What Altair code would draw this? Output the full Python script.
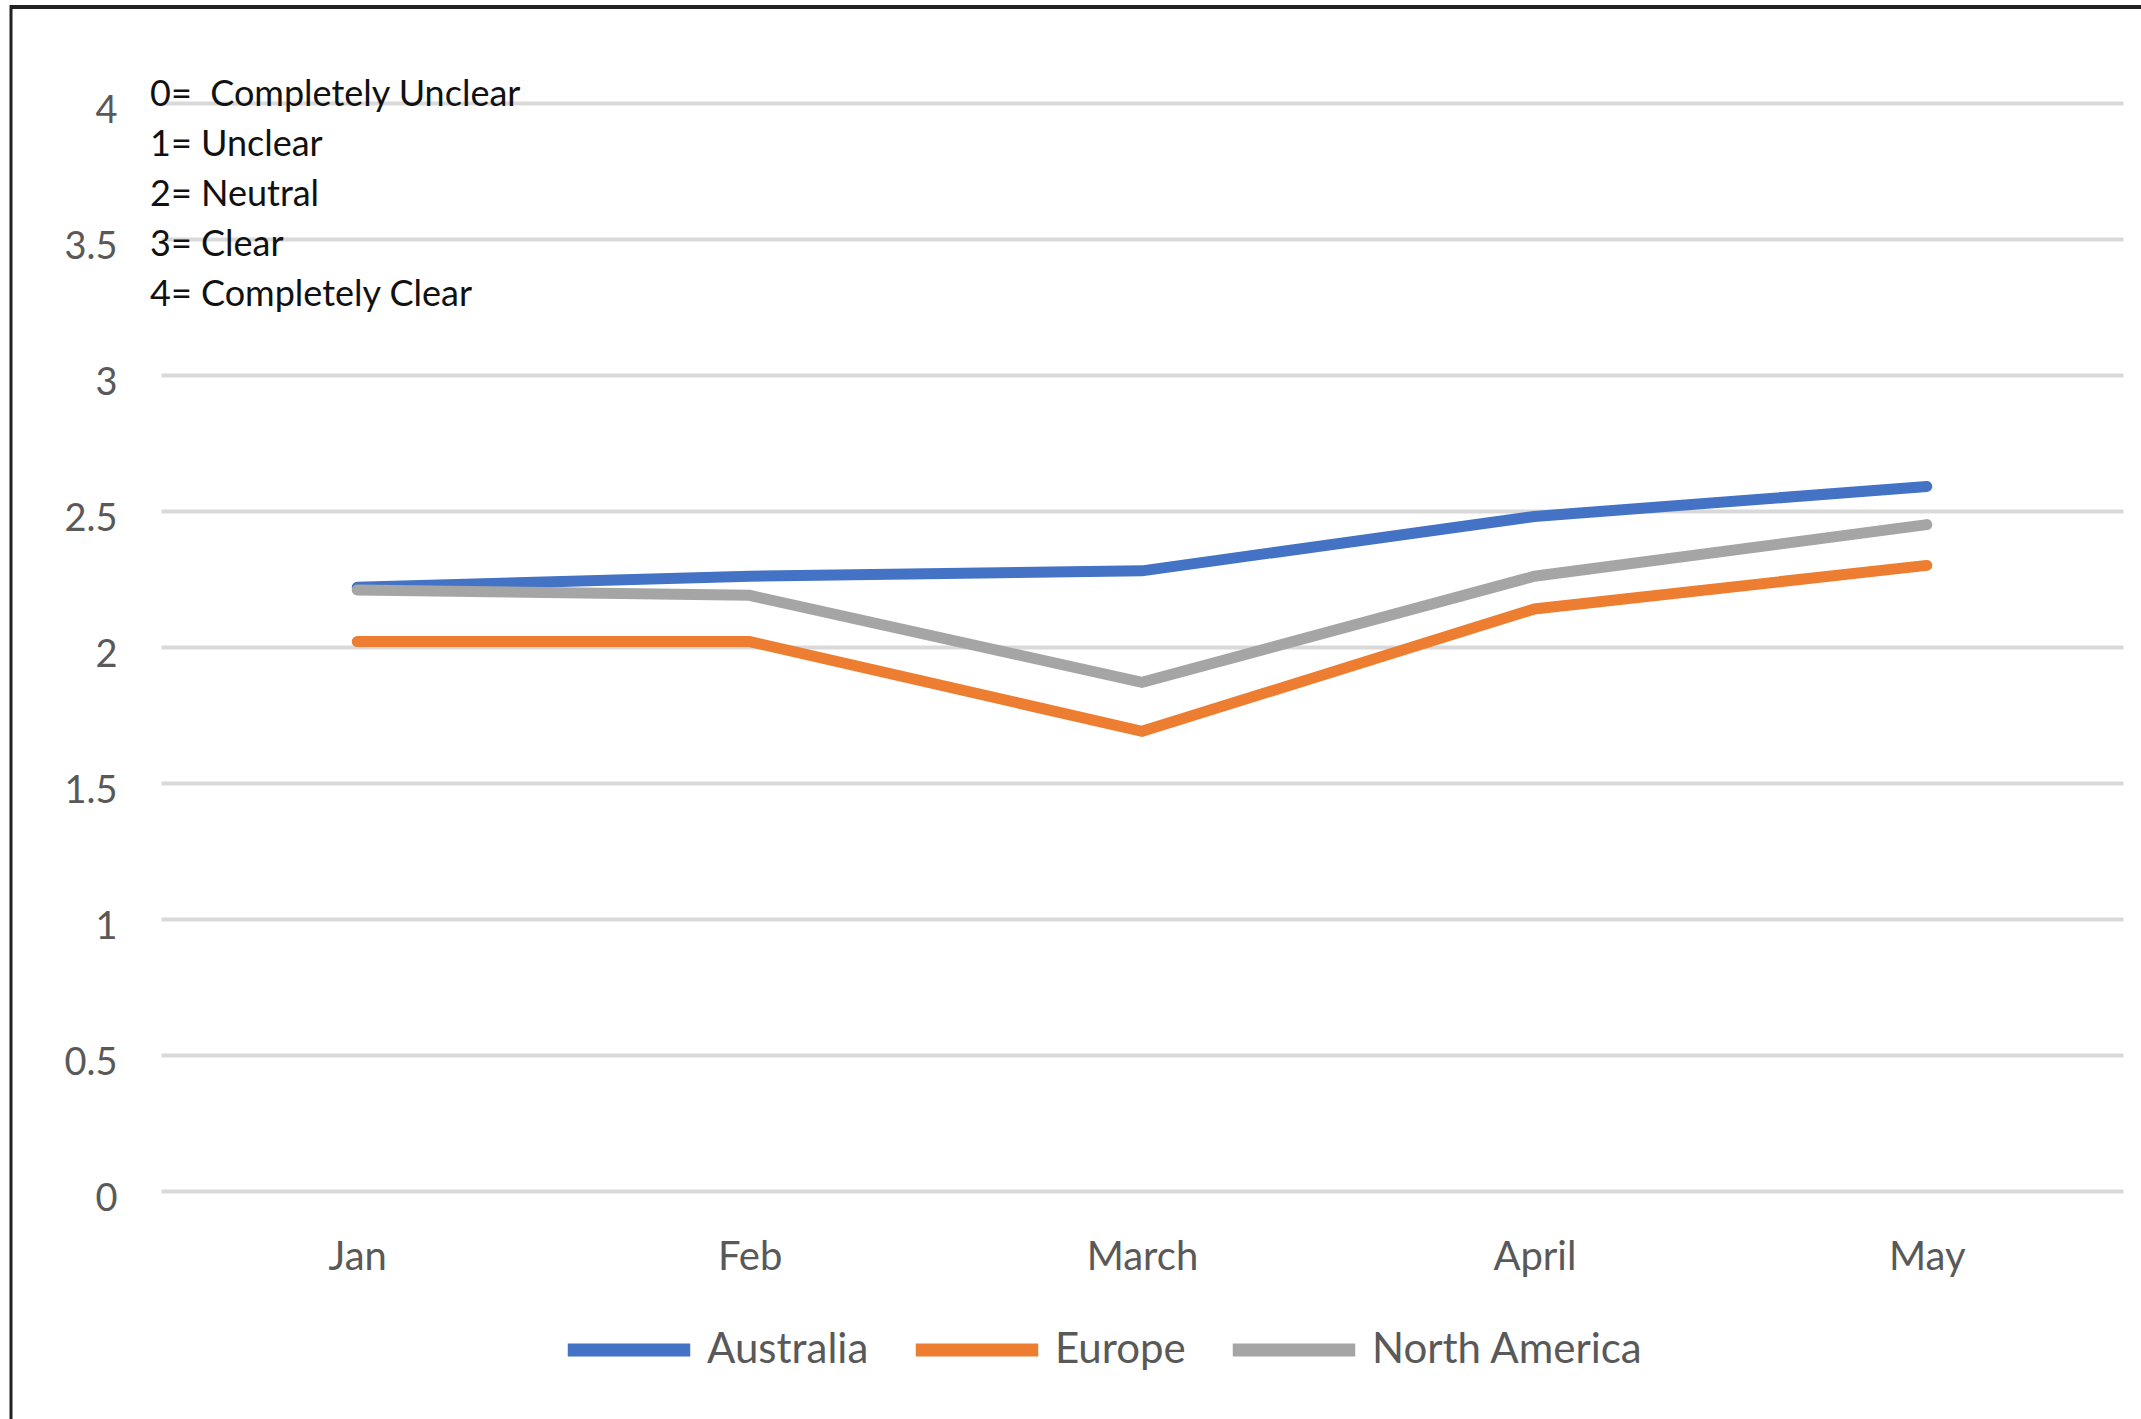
import altair as alt
import pandas as pd

months = ["Jan", "Feb", "March", "April", "May"]
series = ["Australia", "Europe", "North America"]
australia = [2.22, 2.26, 2.28, 2.48, 2.59]
europe = [2.02, 2.02, 1.69, 2.14, 2.30]
north_america = [2.21, 2.19, 1.87, 2.26, 2.45]
colors = ["#4472C4", "#ED7D31", "#A5A5A5"]
y_ticks = [0, 0.5, 1, 1.5, 2, 2.5, 3, 3.5, 4]
note_lines = ["0=\u00a0 Completely Unclear", "1= Unclear", "2= Neutral", "3= Clear", "4= Completely Clear"]

rows = []
for name, vals in zip(series, [australia, europe, north_america]):
    for m, v in zip(months, vals):
        rows.append({"Month": m, "Region": name, "Value": v})
df = pd.DataFrame(rows)

FONT = "Lato"
W, H = 1962, 1088

lines = alt.Chart(df).mark_line(strokeWidth=11, strokeCap="round", strokeJoin="miter").encode(
    x=alt.X("Month:N", sort=months, scale=alt.Scale(padding=0.5),
            axis=alt.Axis(title=None, labelAngle=0, labelFontSize=40, labelColor="#595959", labelFont=FONT,
                          labelPadding=46, ticks=False, domain=False, grid=False)),
    y=alt.Y("Value:Q", scale=alt.Scale(domain=[0, 4], nice=False),
            axis=alt.Axis(title=None, values=y_ticks, format="~g", labelFontSize=38,
                          labelColor="#595959", labelFont=FONT, labelPadding=44, labelOffset=8, ticks=False,
                          domain=False, grid=True, gridColor="#D9D9D9", gridWidth=4, labelFlush=False)),
    color=alt.Color("Region:N", sort=series, scale=alt.Scale(domain=series, range=colors),
                    legend=alt.Legend(title=None, orient="none", direction="horizontal", legendX=400, legendY=1179,
                                      symbolType="stroke", symbolStrokeWidth=13, symbolSize=15000,
                                      labelFontSize=42, labelColor="#595959", labelFont=FONT, labelLimit=500,
                                      labelOffset=10, columnPadding=20)),
)

note = alt.Chart(pd.DataFrame({"t": [0]})).mark_text(
    text=note_lines, lineHeight=50, align="left", baseline="alphabetic", fontSize=36, font=FONT, color="#111111"
).encode(x=alt.value(-11), y=alt.value(3))

border_top = alt.Chart(pd.DataFrame({"t": [0]})).mark_rule(color="#222222", strokeWidth=4).encode(
    x=alt.value(-151), x2=alt.value(1990), y=alt.value(-96))
border_left = alt.Chart(pd.DataFrame({"t": [0]})).mark_rule(color="#222222", strokeWidth=3).encode(
    x=alt.value(-150), y=alt.value(-98), y2=alt.value(1330))

chart = alt.layer(lines, note, border_top, border_left).properties(
    width=W, height=H,
    padding={"left": 161, "top": 103, "right": 18, "bottom": 228},
    autosize=alt.AutoSizeParams(type="none"),
    background="white",
).configure_view(stroke=None)

chart.save("out.html", embed_options={"renderer": "svg", "actions": False})
